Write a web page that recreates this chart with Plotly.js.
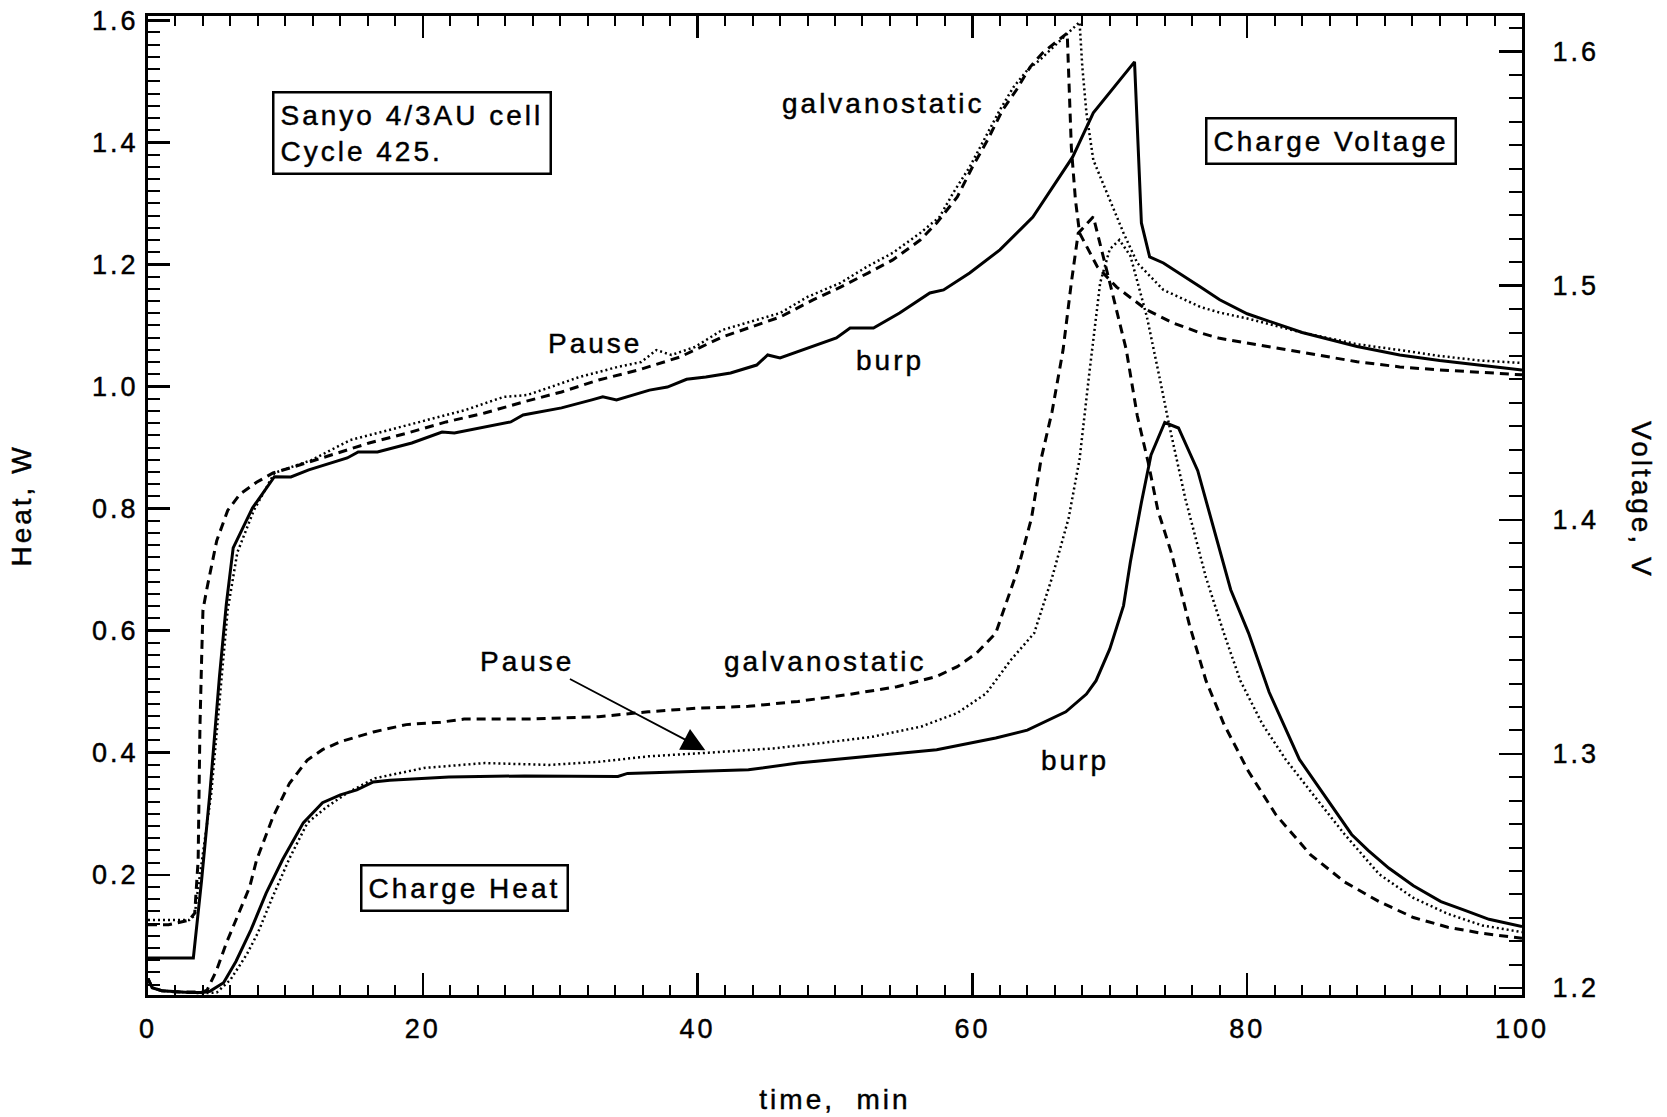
<!DOCTYPE html>
<html>
<head>
<meta charset="utf-8">
<script src="https://cdn.plot.ly/plotly-3.0.1.min.js"></script>
<style>
  html, body { margin: 0; padding: 0; background: #ffffff; }
  #chart { width: 1667px; height: 1117px; }
  svg text { letter-spacing: 3px; stroke: #000; stroke-width: 0.45px; }
</style>
</head>
<body>
<div id="chart"></div>
<script>
// ---------------- data (time in min, heat in W, voltage in V) ----------------
const heatBurpT = [0, 0.3, 1, 2, 3, 4, 4.5, 5.5, 6.4, 7.5, 8.6, 9.8, 11.3, 12.7, 14.0, 15.2, 16.4, 17.6, 21.9, 27.4, 34.2, 34.9, 40.0, 43.7, 47.3, 50.9, 54.5, 57.4, 61.7, 64.0, 66.8, 68.3, 69.0, 70.0, 71.0, 71.5, 72.3, 73.0, 74.0, 75.0, 76.4, 77.5, 78.8, 80.1, 81.6, 83.8, 85.8, 87.6, 88.8, 90.3, 92.1, 94.1, 95.8, 97.6, 100];
const heatBurp = [0.03, 0.015, 0.01, 0.008, 0.007, 0.007, 0.009, 0.023, 0.058, 0.11, 0.17, 0.225, 0.285, 0.318, 0.331, 0.339, 0.352, 0.355, 0.360, 0.362, 0.361, 0.366, 0.369, 0.372, 0.383, 0.391, 0.399, 0.405, 0.424, 0.437, 0.467, 0.496, 0.518, 0.570, 0.641, 0.713, 0.810, 0.888, 0.941, 0.932, 0.862, 0.771, 0.667, 0.596, 0.499, 0.389, 0.324, 0.266, 0.240, 0.211, 0.182, 0.156, 0.142, 0.127, 0.115];

const heatGalvT = [0, 0.3, 1, 2, 3, 4, 4.3, 5.0, 5.7, 6.4, 7.4, 7.9, 9.1, 10.3, 11.6, 12.7, 14.0, 16.4, 18.8, 21.3, 23.0, 27.4, 32.8, 36.4, 40.0, 43.7, 47.3, 50.9, 54.5, 57.4, 58.9, 60.3, 61.7, 63.3, 64.3, 65.0, 65.8, 66.6, 67.2, 67.7, 68.8, 70.0, 71.2, 72.0, 72.8, 73.5, 74.5, 75.8, 77.0, 78.3, 80.1, 82.1, 84.6, 87.1, 89.6, 92.1, 94.6, 97.1, 100];
const heatGalv = [0.03, 0.015, 0.01, 0.008, 0.008, 0.008, 0.011, 0.044, 0.088, 0.126, 0.180, 0.224, 0.295, 0.350, 0.388, 0.405, 0.418, 0.434, 0.446, 0.450, 0.455, 0.455, 0.459, 0.467, 0.473, 0.476, 0.484, 0.495, 0.508, 0.525, 0.541, 0.563, 0.596, 0.700, 0.784, 0.881, 0.959, 1.060, 1.170, 1.251, 1.278, 1.170, 1.060, 0.952, 0.875, 0.797, 0.726, 0.609, 0.518, 0.447, 0.369, 0.298, 0.233, 0.188, 0.156, 0.130, 0.114, 0.104, 0.096];

const heatPauseT = [0, 0.3, 1, 2, 3, 4, 5.0, 6.0, 7.2, 8.0, 9.0, 10.3, 11.6, 13.0, 14.5, 16.5, 18.8, 20.1, 24.5, 29.2, 32.8, 36.4, 40.8, 45.5, 49.1, 52.7, 56.3, 58.9, 61.0, 62.8, 64.5, 65.8, 67.0, 67.8, 68.5, 69.3, 70.0, 70.7, 71.5, 72.7, 73.7, 74.3, 75.5, 77.0, 78.3, 79.5, 81.1, 82.8, 84.6, 87.1, 89.6, 92.1, 94.6, 97.1, 100];
const heatPause = [0.03, 0.015, 0.01, 0.008, 0.007, 0.006, 0.007, 0.028, 0.07, 0.105, 0.16, 0.227, 0.285, 0.311, 0.334, 0.358, 0.369, 0.375, 0.383, 0.380, 0.385, 0.394, 0.400, 0.407, 0.416, 0.426, 0.443, 0.465, 0.497, 0.552, 0.596, 0.687, 0.784, 0.881, 1.02, 1.17, 1.225, 1.240, 1.214, 1.114, 1.006, 0.939, 0.816, 0.687, 0.596, 0.518, 0.447, 0.389, 0.337, 0.266, 0.201, 0.162, 0.136, 0.117, 0.106];

const voltBurpT = [0, 1.5, 3.3, 3.9, 4.5, 5.2, 5.7, 6.2, 7.6, 9.2, 10.4, 11.7, 13.3, 14.5, 15.3, 16.7, 19.2, 21.4, 22.3, 24.5, 26.4, 27.3, 30.1, 32.3, 33.1, 34.1, 36.5, 37.8, 39.2, 40.6, 42.4, 44.3, 45.1, 46.0, 50.1, 51.1, 52.8, 54.7, 56.9, 57.9, 59.8, 62.0, 64.4, 67.3, 68.8, 71.8, 72.3, 72.9, 73.9, 76.6, 78, 80, 82, 84, 86, 88, 91.1, 94, 97, 100];
const voltBurp = [1.2128, 1.2128, 1.2128, 1.246, 1.283, 1.333, 1.364, 1.388, 1.405, 1.4184, 1.4183, 1.4213, 1.4243, 1.4264, 1.4290, 1.4290, 1.4328, 1.4375, 1.4371, 1.4396, 1.4418, 1.4448, 1.4478, 1.4512, 1.4525, 1.4512, 1.4554, 1.4567, 1.4600, 1.4610, 1.4627, 1.4661, 1.4704, 1.4691, 1.4777, 1.4819, 1.4819, 1.4883, 1.4969, 1.4982, 1.5054, 1.5153, 1.5293, 1.5550, 1.5738, 1.5956, 1.5268, 1.5123, 1.5097, 1.4994, 1.494, 1.488, 1.484, 1.480, 1.477, 1.474, 1.4704, 1.468, 1.466, 1.464];

const voltGalvT = [0, 1.5, 3.0, 3.4, 3.65, 3.78, 3.9, 4.0, 4.3, 5.0, 5.8, 6.7, 7.9, 9.1, 10.6, 13.3, 16.1, 18.9, 21.7, 24.5, 27.3, 30.1, 32.8, 35.7, 38.7, 41.8, 46.0, 48.4, 50.4, 52.4, 54.2, 56.2, 57.4, 58.9, 60.0, 61.1, 62.2, 63.2, 64.2, 65.1, 66.9, 67.2, 67.5, 67.8, 69.1, 70.5, 72.7, 74.6, 76.6, 78, 80, 82, 84, 86, 88, 91.1, 94, 97, 100];
const voltGalv = [1.227, 1.227, 1.229, 1.232, 1.2547, 1.3115, 1.340, 1.3615, 1.371, 1.391, 1.404, 1.411, 1.416, 1.420, 1.4226, 1.4277, 1.4328, 1.4371, 1.4418, 1.4456, 1.4503, 1.4546, 1.4597, 1.4640, 1.4695, 1.4781, 1.4866, 1.4939, 1.4994, 1.5054, 1.5110, 1.5195, 1.5268, 1.5379, 1.5507, 1.5622, 1.5751, 1.5836, 1.5934, 1.5994, 1.6079, 1.5592, 1.5366, 1.5225, 1.508, 1.4994, 1.4896, 1.4841, 1.4798, 1.4775, 1.4755, 1.4735, 1.4715, 1.4695, 1.4675, 1.4653, 1.464, 1.463, 1.4619];

const voltPauseT = [0, 1.5, 3.0, 3.4, 3.6, 4.6, 5.2, 5.8, 6.5, 7.7, 9.2, 11.9, 14.7, 17.5, 20.3, 23.1, 25.9, 27.6, 29.3, 31.4, 34.2, 35.9, 37.0, 38.1, 39.8, 41.8, 46.0, 48.0, 50.4, 52.3, 54.2, 56.2, 57.6, 58.6, 59.8, 61.1, 62.0, 63.0, 64.0, 64.9, 66.4, 67.8, 68.0, 68.3, 68.8, 70.0, 71.0, 72.0, 73.9, 76.6, 78, 80, 82, 84, 86, 88, 91.1, 94, 97, 100];
const voltPause = [1.229, 1.229, 1.229, 1.231, 1.2406, 1.283, 1.323, 1.3615, 1.386, 1.404, 1.420, 1.4255, 1.434, 1.4384, 1.4426, 1.4469, 1.4525, 1.4533, 1.4567, 1.4610, 1.4653, 1.4674, 1.4725, 1.4704, 1.4738, 1.4811, 1.4883, 1.4952, 1.5012, 1.5080, 1.5140, 1.5225, 1.5293, 1.5396, 1.5507, 1.5652, 1.5751, 1.5849, 1.5921, 1.5964, 1.6050, 1.6126, 1.5934, 1.5738, 1.5537, 1.5366, 1.5225, 1.5097, 1.4982, 1.4909, 1.4885, 1.486, 1.483, 1.480, 1.4775, 1.475, 1.4725, 1.470, 1.468, 1.467];

const xTickLabels = ['0', '20', '40', '60', '80', '100'];
const heatTickLabels = ['0.2', '0.4', '0.6', '0.8', '1.0', '1.2', '1.4', '1.6'];
const voltTickLabels = ['1.2', '1.3', '1.4', '1.5', '1.6'];

// ---------------- styles ----------------
const FONT = 'Liberation Sans, Arial, Helvetica, sans-serif';
const SOLID = {color: '#000', width: 3, dash: 'solid'};
const DASHED = {color: '#000', width: 3, dash: '9px,6px'};
const DOTTED = {color: '#000', width: 2.5, dash: '2px,3px'};

function tr(x, y, line, axis, name) {
  return {x: x, y: y, type: 'scatter', mode: 'lines', line: line, yaxis: axis, name: name,
          hoverinfo: 'x+y+name', showlegend: false};
}

const data = [
  tr(heatGalvT, heatGalv, DASHED, 'y', 'Heat, galvanostatic'),
  tr(heatPauseT, heatPause, DOTTED, 'y', 'Heat, pause'),
  tr(heatBurpT, heatBurp, SOLID, 'y', 'Heat, burp'),
  tr(voltGalvT, voltGalv, DASHED, 'y2', 'Voltage, galvanostatic'),
  tr(voltPauseT, voltPause, DOTTED, 'y2', 'Voltage, pause'),
  tr(voltBurpT, voltBurp, SOLID, 'y2', 'Voltage, burp')
];

const X_RANGE = [0, 100];
const H_RANGE = [0.003, 1.607];
const V_RANGE = [1.197, 1.6152];

const nb = '\u00a0';
function label(text, x, y, opts) {
  return Object.assign({text: text, x: x, y: y, xref: 'x', yref: 'y', showarrow: false,
    xanchor: 'center', yanchor: 'middle', font: {family: FONT, size: 28, color: '#000'}}, opts || {});
}
const boxed = {bordercolor: '#000', borderwidth: 2.5, borderpad: 6, bgcolor: '#fff'};

const layout = {
  width: 1667, height: 1117,
  margin: {l: 148, r: 145, t: 16, b: 122, pad: 0},
  paper_bgcolor: '#fff', plot_bgcolor: '#fff',
  showlegend: false,
  font: {family: FONT, size: 27, color: '#000'},
  xaxis: {
    range: X_RANGE, tickmode: 'array', tickvals: [0, 20, 40, 60, 80, 100], ticktext: xTickLabels,
    ticks: 'inside', ticklen: 22, tickwidth: 2.5, tickcolor: '#000',
    minor: {dtick: 2, tick0: 0, ticks: 'inside', ticklen: 10, tickwidth: 2, tickcolor: '#000'},
    showline: true, linewidth: 3, linecolor: '#000', mirror: 'ticks',
    showgrid: false, zeroline: false, ticklabelstandoff: 8,
    tickfont: {family: FONT, size: 27},
    title: {text: 'time,' + nb + nb + 'min', font: {family: FONT, size: 28}, standoff: 46}
  },
  xaxis3: {
    overlaying: 'x', anchor: 'y', range: X_RANGE, dtick: 10, tick0: 0,
    ticks: 'inside', ticklen: 16, tickwidth: 2.2, tickcolor: '#000',
    showticklabels: false, showline: false, mirror: 'ticks', showgrid: false, zeroline: false
  },
  yaxis: {
    range: H_RANGE, tickmode: 'array', tickvals: [0.2, 0.4, 0.6, 0.8, 1.0, 1.2, 1.4, 1.6], ticktext: heatTickLabels,
    ticks: 'inside', ticklen: 22, tickwidth: 2.5, tickcolor: '#000',
    minor: {dtick: 0.02, tick0: 0, ticks: 'inside', ticklen: 12, tickwidth: 2, tickcolor: '#000'},
    showline: true, linewidth: 3, linecolor: '#000',
    showgrid: false, zeroline: false, ticklabelstandoff: 1,
    tickfont: {family: FONT, size: 27},
    title: {text: 'Heat, W', font: {family: FONT, size: 28}, standoff: 53}
  },
  yaxis3: {
    overlaying: 'y', side: 'left', anchor: 'x', range: H_RANGE, dtick: 0.1, tick0: 0,
    ticks: 'inside', ticklen: 17, tickwidth: 2.2, tickcolor: '#000',
    showticklabels: false, showline: false, showgrid: false, zeroline: false
  },
  yaxis2: {
    overlaying: 'y', side: 'right', anchor: 'x', range: V_RANGE,
    tickmode: 'array', tickvals: [1.2, 1.3, 1.4, 1.5, 1.6], ticktext: voltTickLabels,
    ticks: 'inside', ticklen: 23, tickwidth: 2.5, tickcolor: '#000',
    minor: {dtick: 0.01, tick0: 1.2, ticks: 'inside', ticklen: 13, tickwidth: 2, tickcolor: '#000'},
    showline: true, linewidth: 3, linecolor: '#000',
    showgrid: false, zeroline: false, ticklabelstandoff: 22,
    tickfont: {family: FONT, size: 27}
  },
  yaxis4: {
    overlaying: 'y', side: 'right', anchor: 'x', range: V_RANGE, dtick: 0.05, tick0: 1.2,
    ticks: 'inside', ticklen: 18, tickwidth: 2.2, tickcolor: '#000',
    showticklabels: false, showline: false, showgrid: false, zeroline: false
  },
  annotations: [
    label('Sanyo 4/3AU cell<br>Cycle 425.', 19.2, 1.416, Object.assign({align: 'left'}, boxed)),
    label('Charge Voltage', 86.1, 1.402, boxed),
    label('Charge Heat', 23.0, 0.179, boxed),
    label('galvanostatic', 53.5, 1.463),
    label('Pause', 32.5, 1.070),
    label('burp', 54.0, 1.043),
    label('Pause', 27.6, 0.550),
    label('galvanostatic', 49.3, 0.550),
    label('burp', 67.5, 0.388),
    {x: 40.56, y: 0.404, xref: 'x', yref: 'y', ax: 30.6, ay: 0.522, axref: 'x', ayref: 'y',
     text: '', showarrow: true, arrowhead: 2, arrowsize: 2.6, arrowwidth: 1.8, arrowcolor: '#000'},
    {text: 'Voltage, V', x: 1642, y: 500, xref: 'paper', yref: 'paper', showarrow: false,
     textangle: 90, font: {family: FONT, size: 28, color: '#000'}, xanchor: 'center', yanchor: 'middle'}
  ]
};
// place the right-hand axis title in paper coordinates
layout.annotations[layout.annotations.length - 1].x = (1642 - 148) / (1667 - 148 - 145);
layout.annotations[layout.annotations.length - 1].y = (1117 - 122 - 500) / (1117 - 122 - 16);

Plotly.newPlot('chart', data, layout, {displayModeBar: false, staticPlot: true});
</script>
</body>
</html>
